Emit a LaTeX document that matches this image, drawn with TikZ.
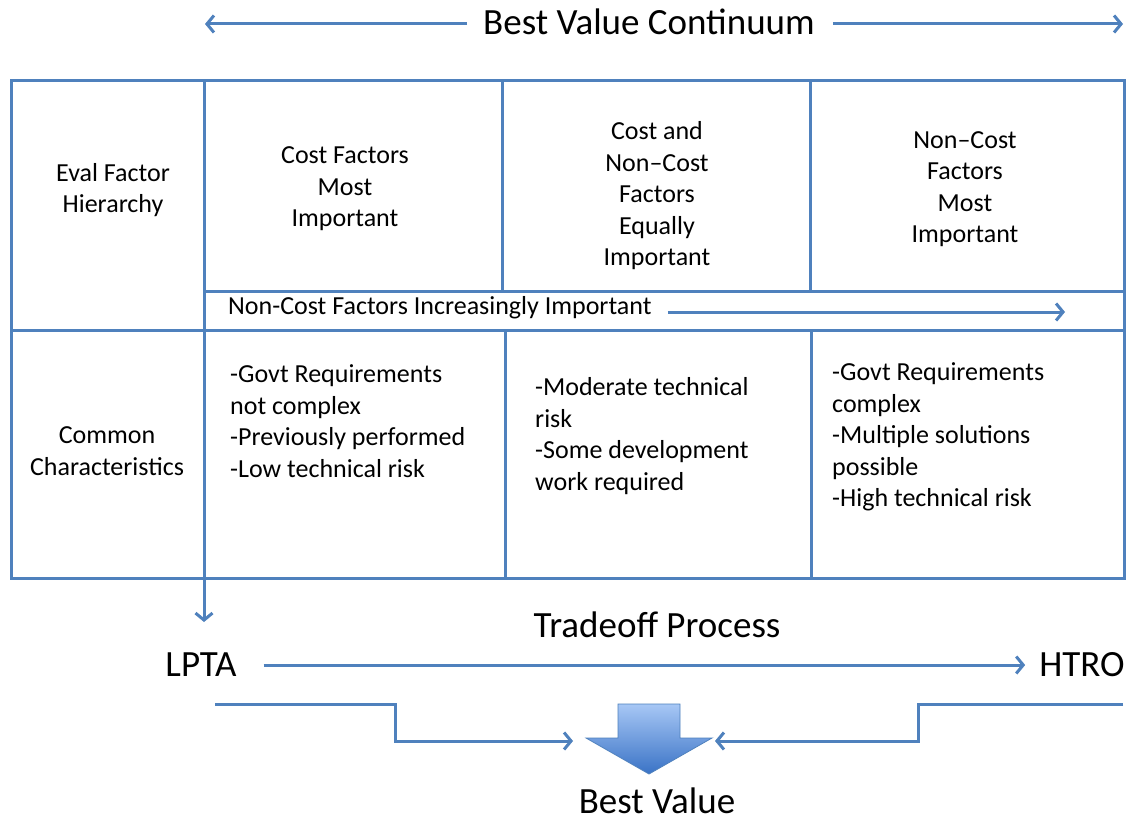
\documentclass[tikz,border=0pt]{standalone}
\usepackage{fontspec}
\setmainfont{Carlito}
\usetikzlibrary{arrows.meta}
\definecolor{lblue}{HTML}{4F81BD}
\definecolor{topblue}{HTML}{A7C7F5}
\definecolor{botblue}{HTML}{3A73C6}
\begin{document}
\begin{tikzpicture}[x=1pt,y=-1pt,
  tline/.style={draw=lblue, line width=3pt},
  arr/.style={draw=lblue, line width=3pt, -{Straight Barb[length=7pt,width=17pt]}},
  body/.style={font=\fontsize{26}{31.5}\selectfont, text=black, inner sep=0pt},
  big/.style={font=\fontsize{37}{42}\selectfont, text=black, inner sep=0pt}]
\useasboundingbox (0,0) rectangle (1135,821);
\fill[white] (0,0) rectangle (1135,821);

% top continuum
\node[big] (bvc) at (649,22) {Best Value Continuum};
\coordinate (bvcL) at (205,24);
\coordinate (bvcR) at (1123,24);
\draw[arr] ([xshift=-16pt]bvc.west |- bvcL) -- (bvcL);
\draw[arr] ([xshift=18pt]bvc.east |- bvcR) -- (bvcR);

% table grid
\draw[tline] (11,81) rectangle (1124,578);
\draw[tline] (204,81) -- (204,578);
\draw[tline] (11,330) -- (1124,330);
\draw[tline] (204,291) -- (1124,291);
\draw[tline] (502,81) -- (502,291);
\draw[tline] (810,81) -- (810,291);
\draw[tline] (505,330) -- (505,578);
\draw[tline] (811,330) -- (811,578);

% header row
\node[body, align=center] (efh) at (113,190) {Eval Factor\\Hierarchy};
\node[body, align=center] (c1) at (345,189) {Cost Factors\\Most\\Important};
\node[body, align=center] (c2) at (657,196) {Cost and\\Non--Cost\\Factors\\Equally\\Important};
\node[body, align=center] (c3) at (965,189) {Non--Cost\\Factors\\Most\\Important};

% increasing importance
\node[body, anchor=west] (inc) at (228,308) {Non-Cost Factors Increasingly Important};
\coordinate (incEnd) at (1065,312);
\draw[arr] ([xshift=16pt]inc.east |- incEnd) -- (incEnd);

% characteristics row
\node[body, align=center] (cc) at (107,451) {Common\\Characteristics};
\node[body, align=left, anchor=west] (d1) at (230,421) {-Govt Requirements\\not complex\\-Previously performed\\-Low technical risk};
\node[body, align=left, anchor=west] (d2) at (535,436) {-Moderate technical\\risk\\-Some development\\work required};
\node[body, align=left, anchor=west] (d3) at (832,437) {-Govt Requirements\\complex\\-Multiple solutions\\possible\\-High technical risk};

% tradeoff
\node[big] (trade) at (657,625) {Tradeoff Process};
\node[big] (lpta) at (201,665) {LPTA};
\node[big] (htro) at (1082,665) {HTRO};
\coordinate (colbot) at (204,578);
\coordinate (colarr) at (204,622);
\draw[arr] (colbot) -- (colarr);
\draw[arr] ([xshift=27pt]lpta.east) -- ([xshift=-14pt]htro.west);

% best value arrow
\path[top color=topblue, bottom color=botblue, draw=lblue, line width=0.8pt]
  (618,704) -- (680,704) -- (680,738) -- (712,738) -- (649,774) -- (586,738) -- (618,738) -- cycle;
\coordinate (bvl) at (573,741);
\coordinate (bvr) at (715,741);
\draw[arr] (215,704) -- (395,704) -- (395,741) -- (bvl);
\draw[arr] (1123,704) -- (918,704) -- (918,741) -- (bvr);
\node[big] (bv) at (657,801) {Best Value};
\end{tikzpicture}
\end{document}
